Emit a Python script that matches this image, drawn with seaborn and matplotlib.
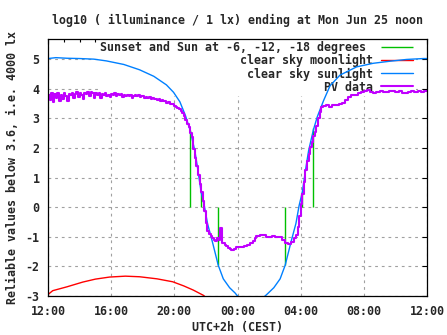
import numpy as np
import pandas as pd
import matplotlib
matplotlib.use("Agg")
import matplotlib.pyplot as plt
from matplotlib.ticker import MultipleLocator
import seaborn as sns

# ---------------- data (hours since midnight of the first day) ----------------
title = "log10 ( illuminance / 1 lx) ending at Mon Jun 25 noon"
xlabel = "UTC+2h (CEST)"
ylabel = "Reliable values below 3.6, i.e. 4000 lx"

xtick_hours = [12, 16, 20, 24, 28, 32, 36]
xtick_labels = ["12:00", "16:00", "20:00", "00:00", "04:00", "08:00", "12:00"]
ytick_values = [-3, -2, -1, 0, 1, 2, 3, 4, 5]

# Sunset and sun at -6, -12 degrees (evening and morning)
sun_event_hours = [21.0, 21.71, 22.79, 27.02, 28.1, 28.8]
sun_event_values = [2.6, 0.52, -1.96, -1.96, 0.5, 2.66]

# clear sky moonlight
moon_hours = [12.0, 12.3, 13.2, 14.2, 15.0, 15.9, 16.9, 17.8, 18.9, 19.9, 20.6, 21.2, 21.85, 22.0]
moon_values = [-2.95, -2.82, -2.69, -2.53, -2.43, -2.36, -2.33, -2.35, -2.42, -2.52, -2.66, -2.8, -2.98, -3.05]

# clear sky sunlight
sun_hours = [12.0, 12.5, 13.2, 14.0, 14.9, 15.7, 16.8, 17.8, 18.7, 19.5, 19.95, 20.35, 20.7,
             21.0, 21.3, 21.45, 21.7, 21.9, 22.1, 22.4, 22.78, 23.1, 23.5, 23.85, 24.0,
             24.9, 25.75, 25.95, 26.3, 26.7, 27.02, 27.4, 27.7, 27.9, 28.1, 28.35, 28.5,
             28.8, 29.05, 29.45, 29.86, 30.49, 31.55, 32.6, 33.66, 34.72, 35.77, 36.0]
sun_values = [5.02, 5.05, 5.03, 5.02, 5.0, 4.94, 4.82, 4.64, 4.42, 4.13, 3.88, 3.56, 3.1,
              2.6, 1.9, 1.4, 0.5, 0.05, -0.55, -1.15, -1.96, -2.42, -2.72, -2.9, -3.0,
              -3.3, -3.0, -2.9, -2.72, -2.42, -1.96, -1.15, -0.55, 0.05, 0.5, 1.4, 1.9,
              2.6, 3.05, 3.6, 4.1, 4.46, 4.74, 4.86, 4.93, 4.99, 5.02, 5.02]

# PV data, afternoon/evening (every 6 minutes, 12:00 .. 00:00)
pv_day_hours = [round(12.0 + 0.1 * i, 1) for i in range(121)]
pv_day_values = [
    3.80, 3.62, 3.85, 3.55, 3.82, 3.70, 3.86, 3.58, 3.80, 3.66,
    3.84, 3.74, 3.60, 3.83, 3.78, 3.86, 3.68, 3.82, 3.88, 3.72,
    3.85, 3.80, 3.66, 3.87, 3.82, 3.90, 3.74, 3.88, 3.84, 3.70,
    3.86, 3.80, 3.84, 3.68, 3.82, 3.78, 3.85, 3.76, 3.80, 3.72,
    3.82, 3.79, 3.84, 3.76, 3.81, 3.78, 3.83, 3.72, 3.80, 3.77,
    3.79, 3.74, 3.78, 3.70, 3.76, 3.79, 3.75, 3.78, 3.72, 3.74,
    3.77, 3.70, 3.73, 3.68, 3.71, 3.66, 3.69, 3.64, 3.67, 3.62,
    3.64, 3.60, 3.62, 3.57, 3.58, 3.53, 3.55, 3.50, 3.48, 3.47,
    3.42,
    3.40, 3.36, 3.30, 3.24, 3.17, 3.08, 2.96, 2.82, 2.70, 2.52,
    2.36, 1.95, 1.65, 1.40, 1.10, 0.78, 0.50, 0.22, -0.12, -0.55,
    -0.80, -0.92, -0.98, -1.05, -1.10, -1.15, -1.05, -1.12, -0.70, -1.20,
    -1.22, -1.27, -1.30, -1.38, -1.42, -1.45, -1.44, -1.40, -1.36, -1.34,
]

# PV data, night/morning
pv_night_hours = [24.2, 24.4, 24.6, 24.8, 25.0, 25.1, 25.2, 25.4, 25.6, 25.8, 26.0, 26.2,
                  26.4, 26.6, 26.8, 27.0, 27.2, 27.4, 27.6, 27.7, 27.8, 27.9, 28.0, 28.1,
                  28.2, 28.3, 28.4, 28.5, 28.6, 28.7, 28.8, 28.9, 29.0, 29.1, 29.2, 29.3,
                  29.4, 29.6, 29.8, 30.0, 30.2, 30.4, 30.6, 30.8, 31.0, 31.2, 31.4, 31.6,
                  31.8, 32.0, 32.2, 32.4, 32.6, 32.8, 33.0, 33.2, 33.4, 33.6, 33.8, 34.0,
                  34.2, 34.4, 34.6, 34.8, 35.0, 35.2, 35.4, 35.6, 35.8, 36.0]
pv_night_values = [-1.35, -1.30, -1.27, -1.22, -1.15, -1.05, -0.96, -0.93, -0.95, -1.00, -1.02, -0.99,
                   -1.02, -1.00, -1.12, -1.22, -1.25, -1.18, -1.05, -0.95, -0.67, -0.30, 0.10, 0.45,
                   0.85, 1.25, 1.55, 1.78, 2.04, 2.20, 2.40, 2.55, 2.74, 3.00, 3.22, 3.38,
                   3.42, 3.45, 3.40, 3.46, 3.44, 3.50, 3.52, 3.62, 3.72, 3.78, 3.80, 3.84,
                   3.88, 3.92, 3.95, 3.88, 3.84, 3.90, 3.92, 3.90, 3.88, 3.92, 3.93, 3.90,
                   3.92, 3.87, 3.85, 3.90, 3.92, 3.89, 3.91, 3.90, 3.92, 3.93]

labels = ["Sunset and Sun at -6, -12, -18 degrees ", "clear sky moonlight",
          "clear sky sunlight", "PV data"]

# ---------------- styling ----------------
FS = 8.4
sns.set_theme(style="white")
plt.rcParams["font.family"] = ["DejaVu Sans Mono"]
plt.rcParams["font.weight"] = "bold"
for k in ["font.size", "axes.titlesize", "axes.labelsize", "xtick.labelsize",
          "ytick.labelsize", "legend.fontsize"]:
    plt.rcParams[k] = FS
plt.rcParams["axes.unicode_minus"] = False

C_GREEN, C_RED, C_BLUE, C_MAG = "#00c000", "#ff0000", "#0080ff", "#c000ff"

fig = plt.figure(figsize=(4.47, 3.35), dpi=100)
ax = fig.add_axes([48 / 447, 1 - 296 / 335, 379 / 447, 257 / 335])

ax.vlines(sun_event_hours, 0, sun_event_values, colors=C_GREEN, linewidth=1.0,
          label=labels[0], zorder=2)

moon_df = pd.DataFrame({"h": moon_hours, "v": moon_values})
sun_df = pd.DataFrame({"h": sun_hours, "v": sun_values})
pv_df = pd.DataFrame({"h": pv_day_hours + pv_night_hours, "v": pv_day_values + pv_night_values})

sns.lineplot(data=moon_df, x="h", y="v", ax=ax, color=C_RED, linewidth=1.0,
             estimator=None, label=labels[1], zorder=2)
sns.lineplot(data=sun_df, x="h", y="v", ax=ax, color=C_BLUE, linewidth=1.0,
             estimator=None, label=labels[2], zorder=2)
sns.lineplot(data=pv_df, x="h", y="v", ax=ax, color=C_MAG, linewidth=1.5,
             estimator=None, drawstyle="steps-post", label=labels[3], zorder=2)

ax.set_xlim(12, 36)
ax.set_ylim(-3, 5.68)
ax.set_xticks(xtick_hours)
ax.set_xticklabels(xtick_labels)
ax.xaxis.set_minor_locator(MultipleLocator(1))
ax.set_yticks(ytick_values)
ax.set_yticklabels([str(v) for v in ytick_values])

ax.tick_params(which="both", direction="in", top=True, right=True, color="black",
               labelsize=FS)
ax.tick_params(which="major", length=3.5, width=0.8)
ax.tick_params(axis="x", which="major", pad=6.5)
ax.tick_params(axis="y", which="major", pad=6.0)
ax.tick_params(which="minor", length=1.8, width=0.8)

for s in ax.spines.values():
    s.set_color("black")
    s.set_linewidth(0.9)

ax.set_axisbelow(True)
ax.grid(True, which="major", color="#a0a0a0", linestyle=(0, (2.5, 3.5)), linewidth=0.8)

ax.set_title(title, pad=11, fontweight="bold", fontsize=FS)
ax.set_xlabel(xlabel, labelpad=2.5, fontweight="bold", fontsize=FS)
ax.set_ylabel(ylabel, labelpad=5, fontweight="bold", fontsize=FS)

handles, labs = ax.get_legend_handles_labels()
leg = ax.legend(handles, labs, loc="upper right", bbox_to_anchor=(367.5 / 379, 1.0),
                borderaxespad=0, borderpad=0.2, markerfirst=False, handlelength=2.74,
                handletextpad=0.69, labelspacing=0.0, frameon=True, fancybox=False,
                facecolor="white", edgecolor="none", framealpha=1, fontsize=FS)
leg.set_zorder(1)

fig.savefig("out.png", dpi=100)
